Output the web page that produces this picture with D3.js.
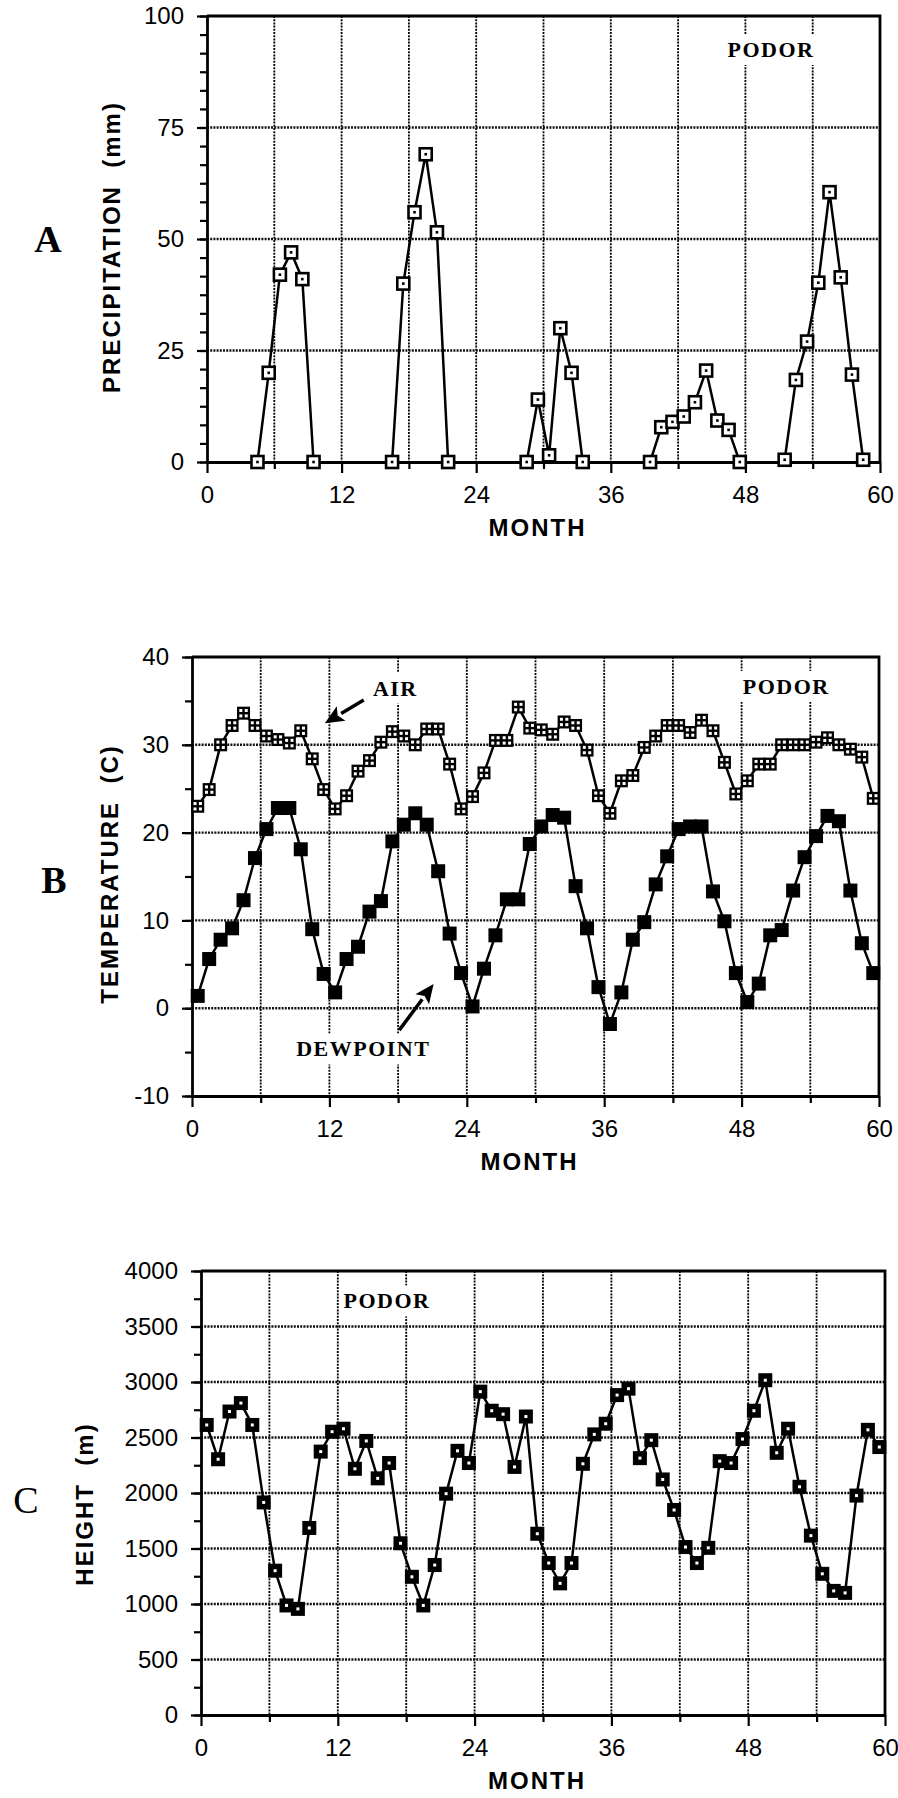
<!DOCTYPE html>
<html lang="en">
<head>
<meta charset="utf-8">
<title>Podor - precipitation, temperature, height</title>
<script src="https://d3js.org/d3.v7.min.js"></script>
<style>
  body { margin: 0; background: #fff; }
  svg { display: block; }
</style>
</head>
<body>
<script>

// values, months plotted at mid-month

var months = d3.range(0.5, 60, 1);

var precipMonths = [4.5, 5.5, 6.5, 7.5, 8.5, 9.5,
                    16.5, 17.5, 18.5, 19.5, 20.5, 21.5,
                    28.5, 29.5, 30.5, 31.5, 32.5, 33.5,
                    39.5, 40.5, 41.5, 42.5, 43.5, 44.5, 45.5, 46.5, 47.5,
                    51.5, 52.5, 53.5, 54.5, 55.5, 56.5, 57.5, 58.5];
var precipValues = [0, 20, 42, 47, 41, 0,
                    0, 40, 56, 69, 51.5, 0,
                    0, 14, 1.5, 30, 20, 0,
                    0, 7.8, 9, 10.2, 13.4, 20.5, 9.3, 7.2, 0,
                    0.5, 18.4, 27, 40.2, 60.5, 41.4, 19.6, 0.5];

var airTemp = [23.0, 24.9, 30.0, 32.2, 33.6, 32.2, 31.0, 30.6, 30.2, 31.6, 28.4, 24.9,
               22.7, 24.2, 27.0, 28.2, 30.3, 31.5, 31.0, 30.0, 31.8, 31.8, 27.8, 22.7,
               24.1, 26.8, 30.5, 30.5, 34.3, 31.9, 31.7, 31.2, 32.6, 32.2, 29.4, 24.2,
               22.2, 25.9, 26.5, 29.7, 31.0, 32.2, 32.2, 31.4, 32.8, 31.6, 28.0, 24.4,
               25.9, 27.8, 27.8, 30.0, 30.0, 30.0, 30.3, 30.8, 30.0, 29.5, 28.6, 23.9];

var dewpoint = [1.4, 5.6, 7.8, 9.1, 12.3, 17.1, 20.4, 22.8, 22.8, 18.1, 9.0, 3.9,
                1.8, 5.6, 7.0, 11.0, 12.2, 19.0, 20.9, 22.2, 20.9, 15.6, 8.5, 4.0,
                0.2, 4.5, 8.3, 12.4, 12.4, 18.7, 20.7, 22.0, 21.7, 13.9, 9.1, 2.4,
                -1.8, 1.8, 7.8, 9.8, 14.1, 17.3, 20.4, 20.7, 20.7, 13.3, 9.9, 4.0,
                0.7, 2.8, 8.3, 8.9, 13.4, 17.2, 19.6, 21.9, 21.3, 13.4, 7.4, 4.0];

var height = [2613, 2304, 2734, 2810, 2613, 1915, 1300, 987, 956, 1685, 2373, 2552,
              2579, 2218, 2469, 2132, 2270, 1547, 1245, 987, 1351, 1994, 2380, 2270,
              2913, 2741, 2710, 2235, 2689, 1633, 1369, 1186, 1369, 2263, 2528, 2624,
              2882, 2940, 2314, 2476, 2122, 1847, 1513, 1369, 1506, 2287, 2270, 2486,
              2741, 3016, 2362, 2579, 2056, 1616, 1272, 1118, 1100, 1977, 2569, 2414];

var monthTicks = [0, 12, 24, 36, 48, 60];
var monthMinor = [6, 18, 30, 42, 54];
var monthGrid = [6, 12, 18, 24, 30, 36, 42, 48, 54];
var precipTicks = [0, 25, 50, 75, 100];
var tempTicks = [-10, 0, 10, 20, 30, 40];
var heightTicks = [0, 500, 1000, 1500, 2000, 2500, 3000, 3500, 4000];

var W = 898, H = 1798;
var sans = "'Liberation Sans', Arial, Helvetica, sans-serif";
var serif = "'Liberation Serif', 'Times New Roman', serif";

var svg = d3.select("body").append("svg")
    .attr("width", W)
    .attr("height", H);

svg.append("rect")
    .attr("width", W)
    .attr("height", H)
    .attr("fill", "#fff");

var panels = [
  {left: 207, right: 880, top: 16, bottom: 462, domain: [0, 100],
   ticks: precipTicks, minorStep: 25 / 6, title: "PRECIPITATION  (mm)",
   titleX: 120, titleY: 247, letter: "A", letterX: 48, letterY: 252, letterWeight: "bold",
   monthY: 536},
  {left: 192, right: 879, top: 657, bottom: 1096, domain: [-10, 40],
   ticks: tempTicks, minorStep: 5, title: "TEMPERATURE  (C)",
   titleX: 118, titleY: 874, letter: "B", letterX: 54, letterY: 893, letterWeight: "bold",
   monthY: 1170},
  {left: 201, right: 885, top: 1271, bottom: 1715, domain: [0, 4000],
   ticks: heightTicks, minorStep: 250, title: "HEIGHT  (m)",
   titleX: 93, titleY: 1504, letter: "C", letterX: 26, letterY: 1513, letterWeight: "normal",
   monthY: 1789}
];

function setup(p) {
  p.x = d3.scaleLinear().domain([0, 60]).range([p.left, p.right]);
  p.y = d3.scaleLinear().domain(p.domain).range([p.bottom, p.top]);
  p.g = svg.append("g");

  // dotted grid
  p.g.append("g").selectAll("line")
    .data(monthGrid)
    .join("line")
      .attr("x1", d => p.x(d))
      .attr("x2", d => p.x(d))
      .attr("y1", p.top)
      .attr("y2", p.bottom)
      .attr("stroke", "#000")
      .attr("stroke-width", 1.8)
      .attr("stroke-dasharray", "2,1.2");

  p.g.append("g").selectAll("line")
    .data(p.ticks.slice(1, -1))
    .join("line")
      .attr("x1", p.left)
      .attr("x2", p.right)
      .attr("y1", d => p.y(d))
      .attr("y2", d => p.y(d))
      .attr("stroke", "#111")
      .attr("stroke-width", 2.4)
      .attr("stroke-dasharray", "2,1.2");

  p.labels = p.g.append("g");
}

function drawAxes(p) {
  var minor = d3.range(p.domain[0], p.domain[1] + 0.001, p.minorStep);

  var yMinor = p.g.append("g")
      .attr("transform", `translate(${p.left},0)`)
      .call(d3.axisLeft(p.y).tickValues(minor).tickSize(7).tickSizeOuter(0).tickFormat(""));
  yMinor.select(".domain").remove();

  var yAxis = p.g.append("g")
      .attr("transform", `translate(${p.left},0)`)
      .call(d3.axisLeft(p.y).tickValues(p.ticks).tickSize(10).tickPadding(13)
        .tickSizeOuter(0).tickFormat(d => String(d)));

  var xMinor = p.g.append("g")
      .attr("transform", `translate(0,${p.bottom})`)
      .call(d3.axisBottom(p.x).tickValues(monthMinor).tickSize(7).tickSizeOuter(0).tickFormat(""));
  xMinor.select(".domain").remove();

  var xAxis = p.g.append("g")
      .attr("transform", `translate(0,${p.bottom})`)
      .call(d3.axisBottom(p.x).tickValues(monthTicks).tickSize(11).tickPadding(13)
        .tickSizeOuter(0).tickFormat(d => String(d)));

  [yMinor, yAxis, xMinor, xAxis].forEach(function (a) {
    a.selectAll("line").attr("stroke", "#000").attr("stroke-width", 2.2);
    a.select(".domain").attr("stroke", "#000").attr("stroke-width", 2.8);
    a.selectAll("text")
        .attr("fill", "#000")
        .style("font-family", sans)
        .style("font-size", "24px");
  });

  // top and right frame
  p.g.append("path")
      .attr("d", `M${p.left},${p.top}H${p.right}V${p.bottom}`)
      .attr("fill", "none")
      .attr("stroke", "#000")
      .attr("stroke-width", 2.8);

  p.g.append("text")
      .attr("transform", `translate(${p.titleX},${p.titleY}) rotate(-90)`)
      .attr("text-anchor", "middle")
      .style("font-family", sans)
      .style("font-weight", "bold")
      .style("font-size", "24px")
      .style("letter-spacing", "2px")
      .style("white-space", "pre")
      .text(p.title);

  p.g.append("text")
      .attr("x", (p.left + p.right) / 2 - 6)
      .attr("y", p.monthY)
      .attr("text-anchor", "middle")
      .style("font-family", sans)
      .style("font-weight", "bold")
      .style("font-size", "24px")
      .style("letter-spacing", "2px")
      .text("MONTH");

  svg.append("text")
      .attr("x", p.letterX)
      .attr("y", p.letterY)
      .attr("text-anchor", "middle")
      .style("font-family", serif)
      .style("font-weight", p.letterWeight)
      .style("font-size", "38px")
      .text(p.letter);
}

// serif label on a white patch, placed in data units
function note(p, text, mx, vy, size) {
  var t = p.labels.append("text")
      .attr("x", p.x(mx))
      .attr("y", p.y(vy))
      .style("font-family", serif)
      .style("font-weight", "bold")
      .style("font-size", size + "px")
      .style("letter-spacing", "1.5px")
      .text(text);
  var b = t.node().getBBox();
  p.labels.insert("rect", "text")
      .attr("x", b.x - 4)
      .attr("y", b.y - 3)
      .attr("width", b.width + 8)
      .attr("height", b.height + 6)
      .attr("fill", "#fff");
}

function arrow(p, m1, v1, m2, v2) {
  var x1 = p.x(m1), y1 = p.y(v1), x2 = p.x(m2), y2 = p.y(v2);
  var a = Math.atan2(y2 - y1, x2 - x1), len = 19, w = 8.5;
  var bx = x2 - len * Math.cos(a), by = y2 - len * Math.sin(a);
  p.g.append("line")
      .attr("x1", x1).attr("y1", y1)
      .attr("x2", bx).attr("y2", by)
      .attr("stroke", "#000")
      .attr("stroke-width", 3.5);
  p.g.append("path")
      .attr("d", `M${x2},${y2}L${bx + w * Math.sin(a)},${by - w * Math.cos(a)}` +
                 `L${bx + 4 * Math.cos(a)},${by + 4 * Math.sin(a)}` +
                 `L${bx - w * Math.sin(a)},${by + w * Math.cos(a)}Z`)
      .attr("fill", "#000");
}

function series(p, xs, ys) {
  var pts = xs.map((m, i) => [m, ys[i]]);
  // break the line where months are not consecutive
  var segs = [], cur = [];
  pts.forEach(function (d, i) {
    if (i > 0 && d[0] - pts[i - 1][0] > 1.01) { segs.push(cur); cur = []; }
    cur.push(d);
  });
  segs.push(cur);
  var line = d3.line().x(d => p.x(d[0])).y(d => p.y(d[1]));
  p.g.append("g").selectAll("path")
    .data(segs)
    .join("path")
      .attr("d", line)
      .attr("fill", "none")
      .attr("stroke", "#000")
      .attr("stroke-width", 2.5);
  return p.g.append("g").selectAll("g")
    .data(pts)
    .join("g")
      .attr("transform", d => `translate(${p.x(d[0])},${p.y(d[1])})`);
}

var pA = panels[0], pB = panels[1], pC = panels[2];
panels.forEach(setup);

note(pA, "PODOR", 46.4, 90.8, 22);
note(pB, "PODOR", 48.1, 35.8, 22);
note(pB, "AIR", 15.8, 35.6, 22);
note(pB, "DEWPOINT", 9.1, -5.5, 22);
note(pC, "PODOR", 12.5, 3663, 22);

panels.forEach(drawAxes);

arrow(pB, 15.0, 35.1, 11.6, 32.45);
arrow(pB, 18.1, -2.5, 21.1, 2.75);

// A: open squares with a centre dot
var mA = series(pA, precipMonths, precipValues);
mA.append("rect")
    .attr("x", -6).attr("y", -6).attr("width", 12).attr("height", 12)
    .attr("fill", "#fff").attr("stroke", "#000").attr("stroke-width", 2.6);
mA.append("rect")
    .attr("x", -1.3).attr("y", -1.3).attr("width", 2.6).attr("height", 2.6)
    .attr("fill", "#000");

// B: air temperature, checkered squares
var mAir = series(pB, months, airTemp);
mAir.append("rect")
    .attr("x", -6.5).attr("y", -6.5).attr("width", 13).attr("height", 13)
    .attr("fill", "#000");
mAir.selectAll("rect.hole")
  .data([[-4.2, -4.2], [1.2, -4.2], [-4.2, 1.2], [1.2, 1.2]])
  .join("rect")
    .attr("class", "hole")
    .attr("x", d => d[0]).attr("y", d => d[1])
    .attr("width", 3).attr("height", 3)
    .attr("fill", "#fff");

// B: dewpoint, solid squares
var mDew = series(pB, months, dewpoint);
mDew.append("rect")
    .attr("x", -7).attr("y", -7).attr("width", 14).attr("height", 14)
    .attr("fill", "#000");

// C: height, solid squares with a white centre
var mC = series(pC, months, height);
mC.append("rect")
    .attr("x", -7).attr("y", -7).attr("width", 14).attr("height", 14)
    .attr("fill", "#000");
mC.append("rect")
    .attr("x", -1.5).attr("y", -1.5).attr("width", 3).attr("height", 3)
    .attr("fill", "#fff");

</script>
</body>
</html>
